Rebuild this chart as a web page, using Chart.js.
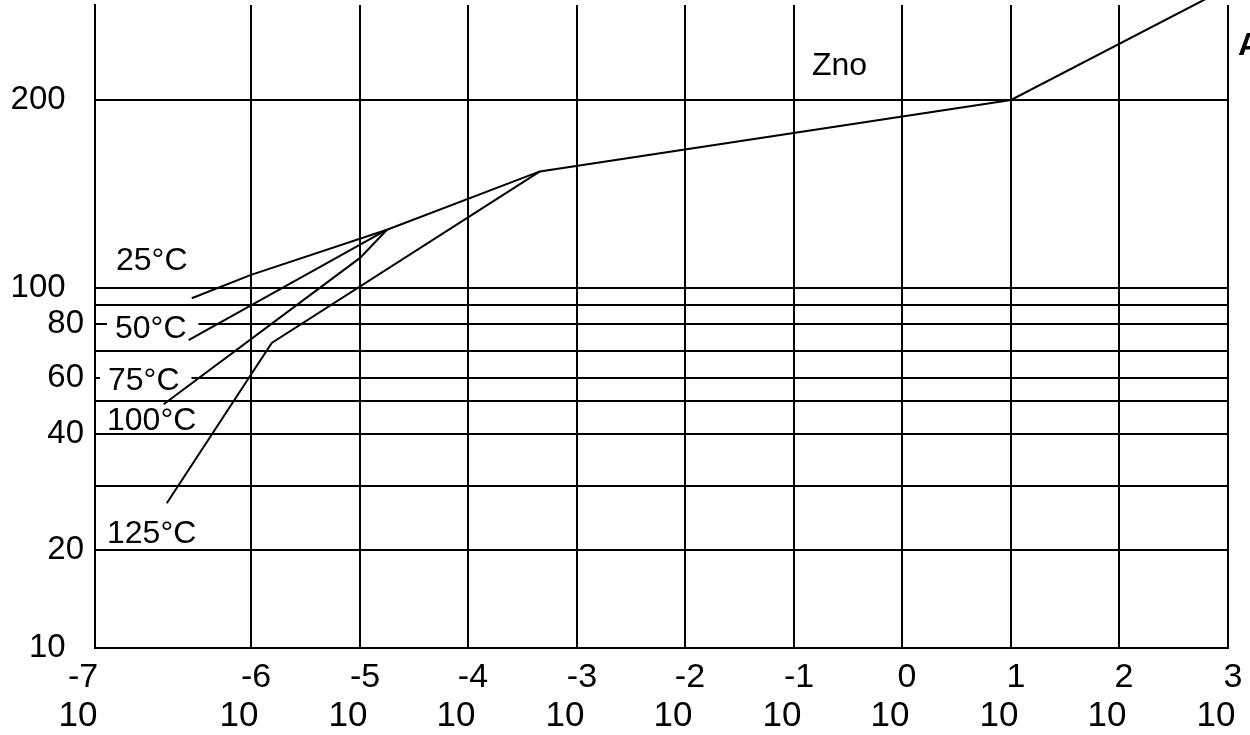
<!DOCTYPE html>
<html>
<head>
<meta charset="utf-8">
<script src="https://cdn.jsdelivr.net/npm/chart.js@4/dist/chart.umd.min.js"></script>
<style>
  body { margin: 0; background: #fff; }
  #wrap { width: 1250px; height: 735px; }
</style>
</head>
<body>
<div id="wrap"><canvas id="chart"></canvas></div>
<script>
// current decades (exponent of 10) and voltage ticks
const decades = [-7, -6, -5, -4, -3, -2, -1, 0, 1, 2, 3];
const voltTicks = [10, 20, 30, 40, 50, 60, 70, 80, 90, 100, 200, 250];
const voltLabels = ['10', '20', '', '40', '', '60', '', '80', '', '100', '200', ''];

// curves: x = log10(I), y = V
const znoX = [-4.75, -3.34, 1.0, 2.79];
const znoY = [131, 162, 200, 253];
const t25X = [-6.38, -6.0, -4.75];
const t25Y = [94, 107, 131];
const t50X = [-6.40, -4.75];
const t50Y = [74, 131];
const t100X = [-6.56, -5.0, -4.75];
const t100Y = [49, 116, 131];
const t125X = [-6.54, -5.81, -3.34];
const t125Y = [27.3, 73, 162];

const curveLabels = ['25°C', '50°C', '75°C', '100°C', '125°C'];

// scale that maps tick values onto hand placed positions (piecewise linear)
class KnotScale extends Chart.LinearScale {
    determineDataLimits() {
        const v = this.options.knotValues;
        this.min = v[0];
        this.max = v[v.length - 1];
    }
    buildTicks() {
        return this.options.knotValues.map(v => ({ value: v }));
    }
    toDecimal(value) {
        const v = this.options.knotValues, p = this.options.knotPos;
        let i = 0;
        while (i < v.length - 2 && value > v[i + 1]) i++;
        return p[i] + (value - v[i]) / (v[i + 1] - v[i]) * (p[i + 1] - p[i]);
    }
    getPixelForValue(value) {
        return this.getPixelForDecimal(this.toDecimal(value));
    }
    getValueForPixel(pixel) {
        const d = this.getDecimalForPixel(pixel);
        const v = this.options.knotValues, p = this.options.knotPos;
        let i = 0;
        while (i < p.length - 2 && d > p[i + 1]) i++;
        return v[i] + (d - p[i]) / (p[i + 1] - p[i]) * (v[i + 1] - v[i]);
    }
}
KnotScale.id = 'knot';
KnotScale.defaults = Chart.LinearScale.defaults;
Chart.register(KnotScale);

const pts = (xs, ys) => xs.map((x, i) => ({ x: x, y: ys[i] }));
const line = (label, xs, ys) => ({
    label: label,
    data: pts(xs, ys),
    borderColor: '#000',
    borderWidth: 2,
    pointRadius: 0,
    tension: 0,
    clip: false
});

const font = 'Liberation Sans, Arial, sans-serif';

const textPlugin = {
    id: 'texts',
    beforeDatasetsDraw(chart) {
        const c = chart.ctx;
        c.save();
        c.font = '32px ' + font;
        c.textAlign = 'left';
        c.textBaseline = 'alphabetic';
        const spots = [[116, 270], [115, 338], [108, 390], [107, 430], [107, 543]];
        curveLabels.forEach((t, i) => {
            const [x, y] = spots[i];
            const w = c.measureText(t).width;
            c.fillStyle = '#fff';
            c.fillRect(x - 8, y - 25, w + 20, 28);
            c.fillStyle = '#000';
            c.fillText(t, x, y);
        });
        c.fillText('Zno', 812, 75);
        c.font = 'bold 32px ' + font;
        c.fillText('A', 1238, 55);
        c.restore();
    },
    afterDraw(chart) {
        const c = chart.ctx;
        const xs = chart.scales.x;
        c.save();
        c.fillStyle = '#000';
        c.textAlign = 'center';
        c.textBaseline = 'alphabetic';
        decades.forEach((d, i) => {
            const px = xs.getPixelForValue(d);
            c.font = '35px ' + font;
            c.fillText('10', i === 0 ? px - 17 : px - 12, 726);
            c.font = '34px ' + font;
            c.fillText(String(d), i === 0 ? px - 12 : px + 5, 687);
        });
        c.restore();
    }
};

new Chart(document.getElementById('chart'), {
    type: 'line',
    data: {
        datasets: [
            line('Zno', znoX, znoY),
            line('25°C', t25X, t25Y),
            line('50°C', t50X, t50Y),
            line('100°C', t100X, t100Y),
            line('125°C', t125X, t125Y)
        ]
    },
    options: {
        responsive: true,
        maintainAspectRatio: false,
        animation: false,
        layout: { padding: { top: 5, right: 22, left: 0, bottom: 0 } },
        plugins: { legend: { display: false }, tooltip: { enabled: false } },
        scales: {
            x: {
                type: 'knot',
                knotValues: decades,
                knotPos: [0, 0.1377, 0.2339, 0.3292, 0.4254, 0.5207, 0.6170, 0.7123, 0.8085, 0.9038, 1],
                afterFit: s => { s.height = 87; s.paddingLeft = 0; s.paddingRight = 0; },
                border: { color: '#000', width: 2 },
                grid: { color: '#000', lineWidth: 2, drawTicks: false },
                ticks: { display: false }
            },
            y: {
                type: 'knot',
                knotValues: voltTicks,
                knotPos: [0, 0.1524, 0.2519, 0.3328, 0.3841, 0.4199, 0.4619, 0.5039, 0.5334, 0.5599, 0.8523, 1],
                afterFit: s => { s.width = 95; s.paddingTop = 0; s.paddingBottom = 0; },
                border: { color: '#000', width: 2 },
                grid: {
                    color: ctx => (ctx.tick && ctx.tick.value === 250) ? 'rgba(0,0,0,0)' : '#000',
                    lineWidth: 2,
                    drawTicks: false
                },
                ticks: {
                    padding: 11,
                    color: '#000',
                    font: { family: font, size: 33 },
                    callback: (v, i) => {
                        const t = voltLabels[i];
                        return (t === '200' || t === '100' || t === '10') ? t + '  ' : t;
                    }
                }
            }
        }
    },
    plugins: [textPlugin]
});
</script>
</body>
</html>
